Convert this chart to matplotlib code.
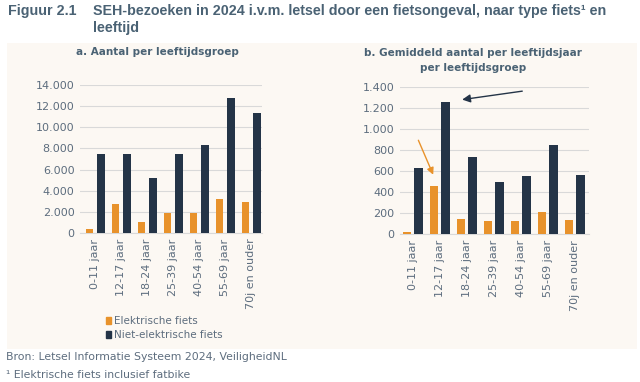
import matplotlib.pyplot as plt
import matplotlib.patches as mpatches
import numpy as np

# leeftijdsgroepen
groepen = ["0-11 jaar", "12-17 jaar", "18-24 jaar", "25-39 jaar",
           "40-54 jaar", "55-69 jaar", "70j en ouder"]

# a. aantal per leeftijdsgroep
aantal_elek = [380, 2780, 1040, 1890, 1900, 3180, 2930]
aantal_niet = [7520, 7490, 5190, 7430, 8310, 12740, 11330]

# b. gemiddeld aantal per leeftijdsjaar
gem_elek = [25, 463, 146, 124, 124, 213, 140]
gem_niet = [629, 1257, 740, 495, 556, 851, 568]

ORANJE = "#E8922B"
DONKER = "#243447"
TEKST = "#5D6D7E"
TITEL = "#4A6274"
PANEEL = "#FCF8F3"
KOP = ["Liberation Sans", "DejaVu Sans"]


def dots(v, pos=None):
    return f"{int(v):,}".replace(",", ".")


fig = plt.figure(figsize=(6.4, 3.82), dpi=100)
fig.patch.set_facecolor("white")

# achtergrondpaneel
fig.patches.append(mpatches.Rectangle((7 / 640, 1 - 349 / 382), 630 / 640, 306 / 382,
                                      transform=fig.transFigure, facecolor=PANEEL,
                                      edgecolor="none", zorder=-5))


def bars(ax, elek, niet, ymax, step, w, off, x0):
    x = np.arange(len(groepen))
    ax.bar(x - off, elek, w, color=ORANJE, zorder=3)
    ax.bar(x + off, niet, w, color=DONKER, zorder=3)
    ax.set_xlim(-x0, len(groepen) - x0)
    ax.set_ylim(0, ymax)
    ax.set_yticks(np.arange(0, ymax + 1, step))
    ax.yaxis.set_major_formatter(plt.FuncFormatter(dots))
    ax.set_xticks(x)
    ax.set_xticklabels(groepen, rotation=90)
    ax.tick_params(length=0, labelsize=8, colors=TEKST, pad=4)
    ax.grid(axis="y", color="#D9D9D9", linewidth=0.8, zorder=0)
    for s in ["top", "right", "left"]:
        ax.spines[s].set_visible(False)
    ax.spines["bottom"].set_color("#D9D9D9")
    ax.set_facecolor("none")


ax1 = fig.add_axes([80 / 640, 1 - 233 / 382, 182 / 640, 148 / 382])
bars(ax1, aantal_elek, aantal_niet, 14000, 2000, 0.29, 0.22, 0.58)

ax2 = fig.add_axes([400 / 640, 1 - 234.3 / 382, 189 / 640, 147 / 382])
bars(ax2, gem_elek, gem_niet, 1400, 200, 0.33, 0.21, 0.47)

# pijlen
ax2.annotate("", xy=(1.73, 1279), xytext=(4.16, 1367),
             arrowprops=dict(arrowstyle="-|>", color=DONKER, lw=1.0, mutation_scale=12))
ax2.annotate("", xy=(0.80, 543), xytext=(0.17, 920),
             arrowprops=dict(arrowstyle="-|>", color=ORANJE, lw=1.0, mutation_scale=10))

# titels
fig.text(8 / 640, 1 - 11 / 382, "Figuur 2.1", fontsize=10.3, fontweight="bold",
         color=TITEL, va="center", family=KOP)
fig.text(93 / 640, 1 - 11 / 382, "SEH-bezoeken in 2024 i.v.m. letsel door een fietsongeval, naar type fiets\u00b9 en",
         fontsize=10.3, fontweight="bold", color=TITEL, va="center", family=KOP)
fig.text(93 / 640, 1 - 28 / 382, "leeftijd", fontsize=10.3, fontweight="bold",
         color=TITEL, va="center", family=KOP)

fig.text(157 / 640, 1 - 52 / 382, "a. Aantal per leeftijdsgroep", fontsize=7.5,
         fontweight="bold", color=TITEL, ha="center", va="center")
fig.text(473 / 640, 1 - 60.5 / 382, "b. Gemiddeld aantal per leeftijdsjaar\nper leeftijdsgroep",
         fontsize=7.5, fontweight="bold", color=TITEL, ha="center", va="center",
         linespacing=1.6)

# legenda
fig.legend(handles=[mpatches.Patch(color=ORANJE, label="Elektrische fiets"),
                    mpatches.Patch(color=DONKER, label="Niet-elektrische fiets")],
           loc="upper left", bbox_to_anchor=(101 / 640, 1 - 311 / 382), frameon=False,
           fontsize=7.5, labelcolor=TEKST, handlelength=0.5, handleheight=0.7,
           handletextpad=0.2, labelspacing=0.35, borderpad=0)

# voetnoten
fig.text(6 / 640, 1 - 357 / 382, "Bron: Letsel Informatie Systeem 2024, VeiligheidNL",
         fontsize=7.8, color=TEKST, va="center")
fig.text(6 / 640, 1 - 375 / 382, "\u00b9 Elektrische fiets inclusief fatbike",
         fontsize=7.8, color=TEKST, va="center")

fig.savefig("out.png", dpi=100)
